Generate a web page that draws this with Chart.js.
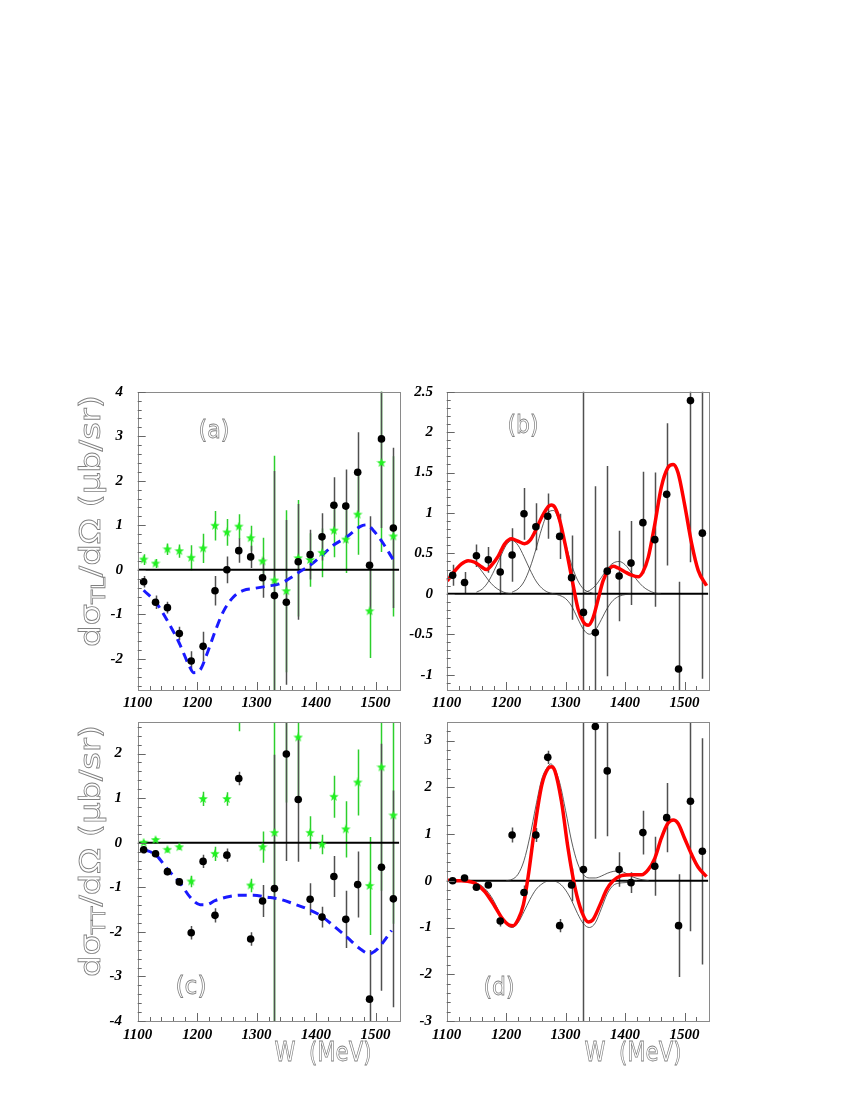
<!DOCTYPE html>
<html>
<head>
<meta charset="utf-8">
<script src="https://cdn.jsdelivr.net/npm/chart.js@4.4.1/dist/chart.umd.min.js"></script>
<style>
  body { margin: 0; background: #fff; }
  canvas { position: absolute; left: 0; top: 0; }
</style>
</head>
<body>
<canvas id="panelA" width="850" height="1100"></canvas>
<canvas id="panelB" width="850" height="1100"></canvas>
<canvas id="panelC" width="850" height="1100"></canvas>
<canvas id="panelD" width="850" height="1100"></canvas>
<script>
// energies of the data points (MeV)
var W = [1110, 1130, 1150, 1170, 1190, 1210, 1230, 1250, 1270, 1290, 1310,
         1330, 1350, 1370, 1390, 1410, 1430, 1450, 1470, 1490, 1510, 1530];
var wTicks = [1100, 1200, 1300, 1400, 1500];

// (a) sigma_TL
var tlData    = [-0.27, -0.73, -0.85, -1.43, -2.05, -1.72, -0.47, 0.0, 0.43, 0.29, -0.18,
                 -0.58, -0.73, 0.18, 0.34, 0.74, 1.45, 1.43, 2.19, 0.1, 2.94, 0.94];
var tlDataErr = [0.13, 0.15, 0.13, 0.15, 0.22, 0.33, 0.33, 0.3, 0.27, 0.25, 0.45,
                 2.8, 1.85, 1.3, 0.56, 0.53, 0.63, 0.82, 0.9, 1.1, 2.0, 1.8];
var tlAlt     = [0.23, 0.14, 0.46, 0.42, 0.27, 0.48, 0.99, 0.84, 0.97, 0.71, 0.19,
                 -0.24, -0.48, 0.26, 0.22, 0.38, 0.88, 0.68, 1.24, -0.93, 2.4, 0.75];
var tlAltErr  = [0.12, 0.1, 0.13, 0.15, 0.28, 0.33, 0.33, 0.3, 0.28, 0.28, 0.53,
                 2.8, 1.82, 1.31, 0.6, 0.55, 0.6, 0.75, 0.9, 1.05, 2.0, 1.8];
var tlModelW  = [1110, 1131, 1151, 1170, 1186, 1194, 1205, 1216, 1230, 1244, 1261, 1278, 1295,
                 1317, 1340, 1356, 1373, 1390, 1407, 1429, 1452, 1474, 1485, 1496, 1513, 1530];
var tlModel   = [-0.46, -0.74, -1.17, -1.65, -2.14, -2.31, -2.25, -1.91, -1.39, -0.94, -0.61, -0.46, -0.42,
                 -0.37, -0.31, -0.19, -0.04, 0.1, 0.29, 0.55, 0.74, 0.97, 1.01, 0.89, 0.59, 0.22];
var aTicks = [-2, -1, 0, 1, 2, 3, 4];

// (b) sigma_TL fit
var bData    = [0.23, 0.14, 0.47, 0.42, 0.27, 0.48, 0.99, 0.83, 0.96, 0.71, 0.2,
                -0.23, -0.48, 0.28, 0.22, 0.38, 0.88, 0.67, 1.23, -0.93, 2.39, 0.75];
var bDataErr = [0.13, 0.13, 0.14, 0.16, 0.28, 0.33, 0.32, 0.29, 0.28, 0.28, 0.52,
                2.8, 1.81, 1.3, 0.56, 0.52, 0.63, 0.83, 0.88, 1.08, 2.0, 1.8];
var bFitW = [1101, 1110, 1125, 1136, 1147, 1159, 1167, 1175, 1187, 1198, 1209, 1220, 1231, 1240, 1248,
             1260, 1271, 1276, 1282, 1290, 1299, 1310, 1321, 1330, 1338, 1346, 1355, 1363, 1372, 1380,
             1388, 1400, 1411, 1422, 1430, 1439, 1450, 1461, 1472, 1481, 1489, 1500, 1512, 1523, 1537];
var bFit  = [0.16, 0.25, 0.37, 0.41, 0.39, 0.33, 0.30, 0.35, 0.47, 0.62, 0.68, 0.65, 0.62, 0.66, 0.76,
             0.95, 1.08, 1.1, 1.07, 0.91, 0.62, 0.21, -0.19, -0.35, -0.39, -0.3, -0.06, 0.16, 0.29, 0.34,
             0.32, 0.27, 0.23, 0.21, 0.27, 0.45, 0.86, 1.32, 1.56, 1.6, 1.5, 1.11, 0.62, 0.29, 0.1];
var bRes1W = [1100, 1110, 1120, 1130, 1140, 1150, 1160, 1170, 1180, 1190, 1200, 1210];
var bRes1  = [0.17, 0.25, 0.33, 0.39, 0.40, 0.36, 0.27, 0.17, 0.09, 0.04, 0.01, 0];
var bRes2W = [1150, 1160, 1170, 1180, 1190, 1200, 1210, 1220, 1230, 1240, 1250, 1260, 1270, 1280];
var bRes2  = [0.02, 0.06, 0.15, 0.29, 0.45, 0.6, 0.66, 0.6, 0.46, 0.3, 0.16, 0.07, 0.02, 0];
var bRes3W = [1210, 1220, 1230, 1240, 1250, 1260, 1270, 1280, 1290, 1300, 1310, 1320, 1330, 1340, 1350];
var bRes3  = [0.02, 0.06, 0.15, 0.32, 0.55, 0.81, 1.0, 1.03, 0.88, 0.62, 0.36, 0.17, 0.06, 0.02, 0];
var bRes4W = [1280, 1290, 1300, 1310, 1320, 1330, 1340, 1350, 1360, 1370, 1380, 1390, 1400, 1410];
var bRes4  = [0, -0.02, -0.06, -0.15, -0.3, -0.44, -0.5, -0.45, -0.32, -0.18, -0.08, -0.03, -0.01, 0];
var bRes5W = [1330, 1340, 1350, 1360, 1370, 1380, 1390, 1400, 1410, 1420, 1430, 1440, 1450, 1460];
var bRes5  = [0.01, 0.04, 0.1, 0.2, 0.31, 0.38, 0.4, 0.36, 0.27, 0.17, 0.09, 0.04, 0.01, 0];
var bTicks = [-1, -0.5, 0, 0.5, 1, 1.5, 2, 2.5];

// (c) sigma_TT
var ttData    = [-0.16, -0.25, -0.65, -0.88, -2.02, -0.42, -1.63, -0.28, 1.44, -2.16, -1.31,
                 -1.03, 1.99, 0.97, -1.27, -1.67, -0.76, -1.72, -0.94, -3.51, -0.55, -1.26];
var ttDataErr = [0.08, 0.08, 0.08, 0.08, 0.15, 0.15, 0.16, 0.15, 0.15, 0.15, 0.36,
                 3.0, 2.4, 1.4, 0.36, 0.23, 0.46, 0.64, 0.74, 1.1, 2.77, 2.43];
var ttAlt     = [0.0, 0.06, -0.16, -0.1, -0.87, 0.98, -0.25, 0.98, 2.9, -0.96, -0.1,
                 0.22, 3.3, 2.36, 0.22, -0.04, 1.03, 0.3, 1.35, -0.97, 1.69, 0.61];
var ttAltErr  = [0.05, 0.05, 0.06, 0.06, 0.13, 0.16, 0.16, 0.15, 0.4, 0.15, 0.35,
                 4.5, 2.4, 1.4, 0.37, 0.22, 0.47, 0.63, 0.74, 1.1, 2.77, 2.43];
var ttModelW  = [1110, 1131, 1149, 1172, 1188, 1205, 1216, 1230, 1250, 1272, 1295, 1317,
                 1340, 1362, 1384, 1407, 1429, 1452, 1474, 1490, 1502, 1513, 1527];
var ttModel   = [-0.15, -0.28, -0.58, -0.92, -1.22, -1.39, -1.39, -1.3, -1.22, -1.18, -1.18, -1.22,
                 -1.27, -1.37, -1.48, -1.63, -1.86, -2.12, -2.38, -2.49, -2.4, -2.23, -1.97];
var cTicks = [-4, -3, -2, -1, 0, 1, 2];

// (d) sigma_TT fit
var dData    = [0.0, 0.06, -0.14, -0.09, -0.86, 0.98, -0.25, 0.98, 2.64, -0.96, -0.09,
                0.24, 3.3, 2.35, 0.24, -0.04, 1.03, 0.31, 1.35, -0.96, 1.7, 0.63];
var dDataErr = [0.05, 0.05, 0.06, 0.06, 0.12, 0.16, 0.15, 0.15, 0.14, 0.14, 0.35,
                4.5, 2.4, 1.4, 0.37, 0.22, 0.47, 0.63, 0.74, 1.1, 2.78, 2.42];
var dFitW = [1101, 1125, 1147, 1164, 1181, 1192, 1204, 1212, 1220, 1229, 1237, 1248, 1260,
             1271, 1276, 1282, 1293, 1304, 1316, 1327, 1338, 1346, 1358, 1369, 1380, 1394,
             1411, 1428, 1439, 1450, 1461, 1472, 1481, 1489, 1500, 1512, 1523, 1537];
var dFit  = [0.01, 0, -0.05, -0.23, -0.55, -0.78, -0.94, -0.96, -0.83, -0.51, 0.09, 1.13, 2.05,
             2.41, 2.44, 2.35, 1.7, 0.7, -0.16, -0.66, -0.88, -0.83, -0.51, -0.19, 0, 0.11,
             0.13, 0.13, 0.24, 0.48, 0.91, 1.23, 1.3, 1.23, 0.91, 0.56, 0.29, 0.09];
var dUpperW = [1200, 1210, 1220, 1230, 1240, 1250, 1260, 1270, 1275, 1280, 1290, 1300, 1310,
               1320, 1330, 1340, 1350, 1360, 1370, 1380, 1390, 1400, 1410, 1420, 1430, 1440];
var dUpper  = [0, 0.03, 0.14, 0.43, 0.95, 1.6, 2.18, 2.44, 2.5, 2.44, 2.1, 1.5, 0.85,
               0.38, 0.13, 0.06, 0.06, 0.1, 0.16, 0.2, 0.21, 0.17, 0.1, 0.05, 0.02, 0];
var dLowerW = [1100, 1140, 1150, 1160, 1170, 1180, 1190, 1200, 1210, 1220, 1230, 1240, 1250,
               1260, 1270, 1280, 1290, 1300, 1310, 1320, 1330, 1340, 1350, 1360, 1370, 1380,
               1390, 1400, 1410, 1420];
var dLower  = [0, -0.02, -0.05, -0.12, -0.25, -0.45, -0.72, -0.93, -1.0, -0.9, -0.66, -0.4, -0.19,
               -0.07, -0.01, -0.01, -0.06, -0.2, -0.42, -0.7, -0.92, -1.0, -0.9, -0.6, -0.28, -0.1,
               -0.05, -0.04, -0.02, 0];
var dTicks = [-3, -2, -1, 0, 1, 2, 3];

function pts(xs, ys) {
  return xs.map(function (x, i) { return { x: x, y: ys[i] }; });
}

// filled five point star used for the green markers
function makeStar(size, color) {
  var c = document.createElement('canvas');
  c.width = size; c.height = size;
  var g = c.getContext('2d');
  var r = size / 2, ri = r * 0.42;
  g.beginPath();
  for (var k = 0; k < 10; k++) {
    var rad = k % 2 ? ri : r;
    var ang = -Math.PI / 2 + k * Math.PI / 5;
    g.lineTo(r + rad * Math.cos(ang), r + rad * Math.sin(ang));
  }
  g.closePath();
  g.fillStyle = color;
  g.fill();
  return c;
}
var star = makeStar(10, '#22f022');

function outlineText(ctx, text, cx, cy, font, width) {
  ctx.save();
  ctx.font = font;
  ctx.textAlign = 'left';
  var w = ctx.measureText(text).width;
  ctx.translate(cx, cy);
  ctx.scale(width / w, 1);
  ctx.textAlign = 'center';
  ctx.textBaseline = 'middle';
  ctx.strokeStyle = '#808080';
  ctx.lineWidth = 0.8;
  ctx.strokeText(text, 0, 0);
  ctx.restore();
}

function yTitle(ctx, sub, base, cy, len) {
  var big = '28px "DejaVu Sans"', small = '19px "DejaVu Sans"';
  var parts = [['d\u03c3', big, 0], [sub, small, 5], ['/d\u03a9 (\u03bcb/sr)', big, 0]];
  ctx.save();
  ctx.textAlign = 'left';
  ctx.textBaseline = 'alphabetic';
  var total = 0;
  parts.forEach(function (p) { ctx.font = p[1]; p.push(ctx.measureText(p[0]).width); total += p[3]; });
  ctx.translate(base, cy);
  ctx.rotate(-Math.PI / 2);
  ctx.scale(len / total, 1);
  ctx.strokeStyle = '#808080';
  ctx.lineWidth = 0.8;
  var x = -total / 2;
  parts.forEach(function (p) {
    ctx.font = p[1];
    ctx.strokeText(p[0], x, p[2]);
    x += p[3];
  });
  ctx.restore();
}

var errorBars = {
  id: 'errorBars',
  beforeDatasetsDraw: function (chart) {
    var ctx = chart.ctx, a = chart.chartArea, xs = chart.scales.x, ys = chart.scales.y;
    ctx.save();
    ctx.beginPath();
    ctx.rect(a.left, a.top, a.right - a.left, a.bottom - a.top);
    ctx.clip();
    var sets = chart.data.datasets.slice().reverse();
    sets.forEach(function (ds) {
      if (!ds.errors) return;
      ctx.strokeStyle = ds.errorColor;
      ctx.lineWidth = 1.5;
      ds.data.forEach(function (p, i) {
        var px = Math.round(xs.getPixelForValue(p.x)) + 0.5;
        ctx.beginPath();
        ctx.moveTo(px, ys.getPixelForValue(p.y - ds.errors[i]));
        ctx.lineTo(px, ys.getPixelForValue(p.y + ds.errors[i]));
        ctx.stroke();
      });
    });
    ctx.restore();
  }
};

var frame = {
  id: 'frame',
  afterDraw: function (chart, args, o) {
    var ctx = chart.ctx, a = chart.chartArea, xs = chart.scales.x, ys = chart.scales.y;
    ctx.save();
    ctx.strokeStyle = '#8a8a8a';
    ctx.lineWidth = 1;
    ctx.strokeRect(Math.round(a.left) + 0.5, Math.round(a.top) + 0.5,
                   Math.round(a.right - a.left), Math.round(a.bottom - a.top));
    ctx.strokeStyle = '#666';
    ctx.beginPath();
    // y ticks, inside the frame
    var k0 = Math.ceil(ys.min / o.yMinor - 1e-6), k1 = Math.floor(ys.max / o.yMinor + 1e-6);
    for (var k = k0; k <= k1; k++) {
      var v = k * o.yMinor;
      var major = Math.abs(v / o.yMajor - Math.round(v / o.yMajor)) < 1e-6;
      var py = Math.round(ys.getPixelForValue(v)) + 0.5;
      ctx.moveTo(a.left, py);
      ctx.lineTo(a.left + (major ? 8 : 4), py);
    }
    // x ticks
    for (var w = 1120; w < 1540; w += 20) {
      var px = Math.round(xs.getPixelForValue(w)) + 0.5;
      ctx.moveTo(px, a.bottom);
      ctx.lineTo(px, a.bottom - (w % 100 === 0 ? 8 : 4));
    }
    ctx.stroke();

    ctx.fillStyle = '#000';
    ctx.font = 'bold italic 15px "Liberation Serif"';
    ctx.textAlign = 'right';
    ctx.textBaseline = 'middle';
    o.yTicks.forEach(function (v) {
      ctx.fillText(String(v), o.yLabelRight, ys.getPixelForValue(v));
    });
    ctx.textAlign = 'center';
    wTicks.forEach(function (v) {
      ctx.fillText(String(v), xs.getPixelForValue(v), o.xLabelY);
    });

    outlineText(ctx, o.panel, o.panelX, o.panelY, '25px "DejaVu Sans"', 31);
    if (o.title) yTitle(ctx, o.title, 100, o.titleY, 252);
    if (o.wLabelX) outlineText(ctx, 'W  (MeV)', o.wLabelX, 1054, '27px "DejaVu Sans"', 97);
    ctx.restore();
  }
};

function makePanel(id, area, yMin, yMax, datasets, opts) {
  return new Chart(document.getElementById(id), {
    type: 'scatter',
    data: { datasets: datasets },
    plugins: [errorBars, frame],
    options: {
      responsive: false,
      animation: false,
      events: [],
      layout: { padding: { left: area[0], right: 850 - area[1], top: area[2], bottom: 1100 - area[3] } },
      scales: {
        x: { type: 'linear', min: 1100, max: 1540, display: false },
        y: { type: 'linear', min: yMin, max: yMax, display: false }
      },
      plugins: { legend: { display: false }, tooltip: { enabled: false }, frame: opts }
    }
  });
}

function dots(ys, errs) {
  return { data: pts(W, ys), errors: errs, errorColor: '#505050', pointStyle: 'circle',
           pointRadius: 3.8, backgroundColor: '#000', borderWidth: 0 };
}
function stars(ys, errs) {
  return { data: pts(W, ys), errors: errs, errorColor: '#2ccf2c', pointStyle: star,
           pointRadius: 5 };
}
function curve(xs, ys, color, width, dash) {
  return { data: pts(xs, ys), showLine: true, pointRadius: 0, borderColor: color,
           borderWidth: width, borderDash: dash || [], cubicInterpolationMode: 'monotone' };
}
var zero = function () { return curve([1100, 1540], [0, 0], '#000', 2); };

var LEFT = [137.7, 399.3], RIGHT = [446.7, 708.3], TOP = [391.7, 690], BOTTOM = [722.3, 1021];

makePanel('panelA', LEFT.concat(TOP), -2.7, 4, [
  dots(tlData, tlDataErr),
  stars(tlAlt, tlAltErr),
  curve(tlModelW, tlModel, '#1a1aff', 3, [9, 6]),
  zero()
], { yTicks: aTicks, yMinor: 0.2, yMajor: 1, yLabelRight: 123, xLabelY: 703,
     panel: '(a)', panelX: 214, panelY: 431, title: 'TL', titleY: 521 });

makePanel('panelB', RIGHT.concat(TOP), -1.19, 2.5, [
  dots(bData, bDataErr),
  curve(bFitW, bFit, '#ff0000', 3.5),
  curve(bRes1W, bRes1, '#333', 0.8),
  curve(bRes2W, bRes2, '#333', 0.8),
  curve(bRes3W, bRes3, '#333', 0.8),
  curve(bRes4W, bRes4, '#333', 0.8),
  curve(bRes5W, bRes5, '#333', 0.8),
  zero()
], { yTicks: bTicks, yMinor: 0.1, yMajor: 0.5, yLabelRight: 433, xLabelY: 703,
     panel: '(b)', panelX: 523, panelY: 426 });

makePanel('panelC', LEFT.concat(BOTTOM), -4, 2.7, [
  dots(ttData, ttDataErr),
  stars(ttAlt, ttAltErr),
  curve(ttModelW, ttModel, '#1a1aff', 3, [9, 6]),
  zero()
], { yTicks: cTicks, yMinor: 0.2, yMajor: 1, yLabelRight: 122, xLabelY: 1035,
     panel: '(c)', panelX: 191, panelY: 987, title: 'TT', titleY: 851, wLabelX: 323 });

makePanel('panelD', RIGHT.concat(BOTTOM), -3, 3.39, [
  dots(dData, dDataErr),
  curve(dFitW, dFit, '#ff0000', 3.5),
  curve(dUpperW, dUpper, '#333', 0.8),
  curve(dLowerW, dLower, '#333', 0.8),
  zero()
], { yTicks: dTicks, yMinor: 0.2, yMajor: 1, yLabelRight: 432, xLabelY: 1035,
     panel: '(d)', panelX: 499, panelY: 988, wLabelX: 633 });
</script>
</body>
</html>
